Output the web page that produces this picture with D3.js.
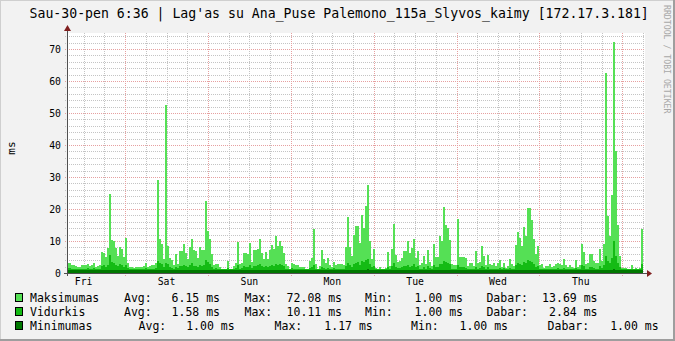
<!DOCTYPE html>
<meta charset="utf-8">
<script src="https://cdn.jsdelivr.net/npm/d3@7"></script>
<style>
    body { margin: 0; background: #f2f2f2; }
    svg text { font-family: "DejaVu Sans Mono", monospace; fill: #000; }
</style>
<div id="chart"></div>
<script>
    // rrd step data, one value per consolidated row (ms)
    var startTime = new Date(2015, 0, 23, 7, 10);
    var stepSeconds = 2086;

    var maxValues = [
        3, 3, 2.4, 2.4, 2.2, 2, 2, 2.6, 2.4, 2.4,
        2.8, 2.2, 2.6, 3.2, 2, 2.2, 2.4, 6.6, 6.4, 5,
        7.8, 24.8, 10.4, 10, 7.8, 5.2, 8, 7.6, 5, 11,
        3, 2, 2, 1.7, 2, 1.8, 2, 1.8, 2.2, 3,
        2, 2.2, 2.4, 2.6, 3.2, 29, 10.5, 9, 4.4, 52.5,
        8.5, 4.8, 4, 2.4, 6, 2.8, 7, 7, 9, 6.4,
        4.3, 8, 10.5, 7.2, 6.9, 4.8, 8, 7.2, 7.2, 22.5,
        13, 10.5, 5.8, 2.4, 2.7, 2.7, 2, 1.4, 1.2, 1.2,
        3.8, 1.2, 1.2, 2.2, 3.2, 9.7, 2.7, 3.2, 6.4, 6.1,
        5.8, 9.3, 3.4, 7.2, 7.2, 7.6, 10.5, 6.4, 4.3, 6.6,
        4.3, 7.2, 8.6, 7.4, 11.6, 8.4, 9.9, 8.4, 6.1, 2.7,
        2.2, 1.4, 3, 2.7, 2.4, 2.4, 2, 2, 2, 1.4,
        1.4, 3.8, 4.8, 13.6, 2.7, 1.4, 2.2, 7.2, 4.3, 3,
        4.8, 2.4, 2, 3.4, 2.4, 2.7, 2.7, 2.7, 2.4, 8.1,
        17.6, 8.2, 5.3, 12, 14.7, 14.7, 9.5, 18.1, 14.2, 20.9,
        27.4, 10, 4.3, 7.4, 1.7, 1.4, 2, 1.4, 1.4, 1.7,
        6.6, 2.2, 7.4, 15.2, 5.5, 3.4, 3.8, 4.8, 6.9, 6.9,
        10, 6.4, 7.9, 10.7, 4.8, 6.9, 2.4, 3, 5.3, 2.7,
        7.2, 3.4, 2.2, 9, 5.1, 5.1, 11.6, 10, 20.6, 14.9,
        14.2, 10.3, 2.7, 2.4, 2.4, 17, 5.1, 5.1, 5.1, 4.8,
        2.2, 3, 3, 2.2, 6.9, 3, 3.4, 8.4, 5.3, 2.4,
        5.6, 2.7, 2.4, 3, 2.2, 3, 4.1, 2, 3.2, 1.7,
        2.2, 4.3, 2.7, 2.2, 8.6, 12.8, 11, 8.4, 14.5, 11.6,
        20.4, 20.4, 16.6, 10.5, 5.8, 8.4, 2.4, 2.7, 1.7, 2.2,
        2.2, 2.7, 2, 2.2, 2.7, 3.2, 2.7, 2.4, 4.3, 2.4,
        2, 2.4, 2, 1.7, 4.1, 2, 2.4, 9, 6.6, 2.7,
        3, 5.8, 5.8, 3.8, 3, 3, 7.6, 3.8, 9, 62.5,
        17.8, 11.5, 24.4, 72.08, 38, 15, 5.3, 1.7, 1.7, 1.7,
        1.4, 1.4, 2.4, 1.4, 1.7, 1.4, 1.7, 13.69
    ];

    var avgValues = [
        1.5, 1.5, 1.4, 1.4, 1.3, 1.3, 1.3, 1.4, 1.4, 1.3,
        1.5, 1.3, 1.4, 1.5, 1.3, 1.3, 1.4, 2.2, 2.4, 2,
        2.6, 5.6, 3.4, 3.2, 2.6, 2.1, 2.8, 2.6, 2, 2.4,
        1.5, 1.3, 1.2, 1.2, 1.3, 1.2, 1.3, 1.2, 1.3, 1.5,
        1.3, 1.3, 1.4, 1.4, 1.6, 3.8, 3.2, 2.8, 1.9, 3.1,
        2.9, 1.9, 1.7, 1.4, 2, 1.5, 2.2, 2.3, 2.6, 2.1,
        1.8, 2.5, 3, 2.3, 2.2, 1.9, 2.5, 2.3, 2.4, 4.2,
        3.4, 2.9, 2, 1.4, 1.5, 1.4, 1.3, 1.2, 1.1, 1.1,
        1.6, 1.1, 1.1, 1.3, 1.5, 2.4, 1.4, 1.5, 2.1, 2,
        2, 2.5, 1.6, 2.2, 2.3, 2.4, 2.8, 2.1, 1.8, 2.2,
        1.8, 2.3, 2.5, 2.3, 2.9, 2.6, 2.7, 2.5, 2.1, 1.4,
        1.3, 1.1, 1.5, 1.4, 1.3, 1.3, 1.2, 1.2, 1.2, 1.1,
        1.1, 1.6, 1.8, 2.6, 1.4, 1.1, 1.3, 2, 1.7, 1.4,
        1.7, 1.3, 1.2, 1.5, 1.3, 1.4, 1.4, 1.4, 1.3, 2.3,
        3, 2.4, 2, 2.9, 3.2, 3.4, 2.6, 3.6, 3.3, 4,
        4.4, 2.8, 1.8, 2.3, 1.2, 1.1, 1.2, 1.1, 1.1, 1.2,
        2, 1.3, 2.2, 3.1, 1.9, 1.5, 1.6, 1.8, 2.1, 2.2,
        2.6, 2, 2.3, 2.7, 1.8, 2.1, 1.3, 1.4, 1.9, 1.4,
        2.1, 1.5, 1.3, 2.4, 1.9, 1.9, 2.9, 2.8, 3.9, 3.4,
        3.2, 2.7, 1.4, 1.3, 1.3, 2.6, 1.9, 1.8, 1.8, 1.7,
        1.3, 1.4, 1.4, 1.3, 2, 1.4, 1.5, 2.2, 1.8, 1.3,
        1.8, 1.4, 1.3, 1.4, 1.3, 1.4, 1.6, 1.2, 1.5, 1.2,
        1.3, 1.6, 1.4, 1.3, 2.4, 3, 2.8, 2.4, 3.3, 3,
        4.1, 3.9, 3.4, 2.7, 1.9, 2.3, 1.3, 1.4, 1.2, 1.3,
        1.3, 1.4, 1.2, 1.3, 1.4, 1.5, 1.4, 1.3, 1.7, 1.3,
        1.2, 1.3, 1.2, 1.2, 1.6, 1.2, 1.3, 2.4, 2.1, 1.4,
        1.4, 2, 2, 1.6, 1.4, 1.4, 2.3, 1.6, 2.5, 5.4,
        3.8, 3, 4.6, 10.11, 5.3, 3.2, 1.8, 1.2, 1.2, 1.2,
        1.1, 1.1, 1.3, 1.1, 1.2, 1.1, 1.2, 2.84
    ];

    var minValues = [
        1, 1, 1, 1, 1, 1, 1, 1, 1, 1,
        1, 1, 1, 1, 1, 1, 1, 1, 1, 1,
        1, 1.05, 1, 1, 1, 1, 1, 1, 1, 1,
        1, 1, 1, 1, 1, 1, 1, 1, 1, 1,
        1, 1, 1, 1, 1, 1.04, 1, 1, 1, 1.02,
        1, 1, 1, 1, 1, 1, 1, 1, 1, 1,
        1, 1, 1, 1, 1, 1, 1, 1, 1, 1.03,
        1, 1, 1, 1, 1, 1, 1, 1, 1, 1,
        1, 1, 1, 1, 1, 1, 1, 1, 1, 1,
        1, 1, 1, 1, 1, 1, 1, 1, 1, 1,
        1, 1, 1, 1, 1, 1, 1, 1, 1, 1,
        1, 1, 1, 1, 1, 1, 1, 1, 1, 1,
        1, 1, 1, 1, 1, 1, 1, 1, 1, 1,
        1, 1, 1, 1, 1, 1, 1, 1, 1, 1,
        1, 1, 1, 1, 1.02, 1, 1, 1.04, 1, 1.05,
        1.17, 1, 1, 1, 1, 1, 1, 1, 1, 1,
        1, 1, 1, 1, 1, 1, 1, 1, 1, 1,
        1, 1, 1, 1, 1, 1, 1, 1, 1, 1,
        1, 1, 1, 1, 1, 1, 1, 1, 1.04, 1,
        1, 1, 1, 1, 1, 1, 1, 1, 1, 1,
        1, 1, 1, 1, 1, 1, 1, 1, 1, 1,
        1, 1, 1, 1, 1, 1, 1, 1, 1, 1,
        1, 1, 1, 1, 1, 1, 1, 1, 1, 1,
        1.03, 1, 1, 1, 1, 1, 1, 1, 1, 1,
        1, 1, 1, 1, 1, 1, 1, 1, 1, 1,
        1, 1, 1, 1, 1, 1, 1, 1, 1, 1,
        1, 1, 1, 1, 1, 1, 1, 1, 1, 1.06,
        1, 1, 1.03, 1.1, 1.04, 1, 1, 1, 1, 1,
        1, 1, 1, 1, 1, 1, 1, 1
    ];

    var dayLabels = ["Fri", "Sat", "Sun", "Mon", "Tue", "Wed", "Thu"];
    var yTicks = [0, 10, 20, 30, 40, 50, 60, 70];

    var seriesNames = ["Maksimumas", "Vidurkis", "Minimumas"];
    var seriesColors = ["#55e055", "#14bb14", "#007800"];
    var statAvg = [6.15, 1.58, 1.00];
    var statMax = [72.08, 10.11, 1.17];
    var statMin = [1.00, 1.00, 1.00];
    var statNow = [13.69, 2.84, 1.00];

    var titleText = "Sau-30-pen 6:36 | Lag'as su Ana_Puse Palemono_115a_Slyvos_kaimy [172.17.3.181]";

    var width = 675;
    var height = 341;
    var plot = { left: 67, right: 647, top: 33, bottom: 273 };

    var endTime = d3.timeDay.offset(startTime, 7);

    var x = d3.scaleTime()
        .domain([startTime, endTime])
        .range([plot.left, plot.right]);

    var y = d3.scaleLinear()
        .domain([0, 75])
        .range([plot.bottom, plot.top]);

    var svg = d3.select('#chart')
        .append('svg')
        .attr('width', width)
        .attr('height', height);

    // frame
    svg.append('rect').attr('width', width).attr('height', height).attr('fill', '#f2f2f2');
    svg.append('path').attr('d', `M0,${height} V0 H${width}`).attr('fill', 'none')
        .attr('stroke', '#cfcfcf').attr('stroke-width', 2);
    svg.append('path').attr('d', `M0,${height - 1} H${width - 1} V0`).attr('fill', 'none')
        .attr('stroke', '#9e9e9e').attr('stroke-width', 2);

    svg.append('rect')
        .attr('x', plot.left).attr('y', plot.top)
        .attr('width', 578).attr('height', plot.bottom - plot.top)
        .attr('fill', '#ffffff');

    // grid
    var grid = svg.append('g').attr('shape-rendering', 'crispEdges');
    var minorH = d3.range(0, 76, 2).filter(v => v % 10 !== 0);
    var majorH = yTicks;

    grid.selectAll('line.mh')
        .data(minorH)
        .enter().append('line')
        .attr('x1', plot.left - 2).attr('x2', plot.left + 578)
        .attr('y1', d => Math.round(y(d)) + 0.5).attr('y2', d => Math.round(y(d)) + 0.5)
        .attr('stroke', '#c4c4c4').attr('stroke-dasharray', '1,1');

    var sixHours = d3.timeHour.every(6).range(startTime, endTime).filter(d => d.getHours() !== 0);
    var midnights = d3.timeDay.range(startTime, endTime);

    grid.selectAll('line.mv')
        .data(sixHours)
        .enter().append('line')
        .attr('x1', d => Math.round(x(d)) + 0.5).attr('x2', d => Math.round(x(d)) + 0.5)
        .attr('y1', plot.top).attr('y2', plot.bottom + 2)
        .attr('stroke', '#c4c4c4').attr('stroke-dasharray', '1,1');

    grid.selectAll('line.Mh')
        .data(majorH)
        .enter().append('line')
        .attr('x1', plot.left - 2).attr('x2', plot.left + 578)
        .attr('y1', d => Math.round(y(d)) + 0.5).attr('y2', d => Math.round(y(d)) + 0.5)
        .attr('stroke', '#e6a0a0').attr('stroke-dasharray', '1,1');

    grid.selectAll('line.Mv')
        .data(midnights)
        .enter().append('line')
        .attr('x1', d => Math.round(x(d)) + 0.5).attr('x2', d => Math.round(x(d)) + 0.5)
        .attr('y1', plot.top).attr('y2', plot.bottom + 3)
        .attr('stroke', '#e6a0a0').attr('stroke-dasharray', '1,1');

    // areas
    function toPoints(values) {
        var pts = values.map((v, i) => ({ t: new Date(+startTime + i * stepSeconds * 1000), v: v }));
        var last = pts[pts.length - 1];
        pts.push({ t: new Date(+last.t + stepSeconds * 1000), v: last.v });
        return pts;
    }

    var area = d3.area()
        .x(d => x(d.t))
        .y0(y(0))
        .y1(d => y(d.v))
        .curve(d3.curveStepAfter);

    [maxValues, avgValues, minValues].forEach((values, k) => {
        svg.append('path')
            .datum(toPoints(values))
            .attr('d', area)
            .attr('fill', seriesColors[k])
            .attr('shape-rendering', 'crispEdges');
    });

    // axes
    var axisColor = '#505050';
    svg.append('line')
        .attr('x1', plot.left - 3).attr('x2', plot.right + 1)
        .attr('y1', plot.bottom + 0.5).attr('y2', plot.bottom + 0.5)
        .attr('stroke', axisColor);
    svg.append('line')
        .attr('x1', plot.left + 0.5).attr('x2', plot.left + 0.5)
        .attr('y1', plot.bottom + 3).attr('y2', plot.top - 3)
        .attr('stroke', axisColor);
    svg.append('path')
        .attr('d', `M${plot.right},${plot.bottom - 3} L${plot.right + 5},${plot.bottom + 0.5} L${plot.right},${plot.bottom + 4} Z`)
        .attr('fill', '#801f1f');
    svg.append('path')
        .attr('d', `M${plot.left - 3},${plot.top - 2} L${plot.left + 0.5},${plot.top - 8} L${plot.left + 4},${plot.top - 2} Z`)
        .attr('fill', '#801f1f');

    // axis labels
    svg.append('g')
        .selectAll('text')
        .data(yTicks)
        .enter().append('text')
        .attr('x', 61)
        .attr('y', d => y(d))
        .attr('dy', '0.36em')
        .attr('text-anchor', 'end')
        .style('font-size', '9.8px')
        .text(d => d);

    svg.append('g')
        .selectAll('text')
        .data(dayLabels)
        .enter().append('text')
        .attr('x', (d, i) => x(d3.timeHour.offset(d3.timeDay.floor(startTime), 24 * i + 12)))
        .attr('y', 285)
        .attr('text-anchor', 'middle')
        .style('font-size', '9.8px')
        .text(d => d);

    svg.append('text')
        .attr('transform', 'translate(15,148) rotate(-90)')
        .attr('text-anchor', 'middle')
        .style('font-size', '11px')
        .text('ms');

    svg.append('text')
        .attr('transform', 'translate(664,5) rotate(90)')
        .style('font-size', '8.2px')
        .style('fill', '#a8a8a8')
        .text('RRDTOOL / TOBI OETIKER');

    svg.append('text')
        .attr('x', 29.5)
        .attr('y', 18)
        .style('font-size', '13.2px')
        .style('white-space', 'pre')
        .text(titleText);

    // legend: label columns (start x) and value columns (end x) per row
    var rowY = [298, 312, 326];
    var labelX = [
        [124, 244.5, 365, 486.4],
        [124, 244.5, 365, 486.4],
        [138.6, 274.6, 411.1, 547.6]
    ];
    var valueEndX = [
        [220, 342, 463, 597.5],
        [220, 342, 463, 597.5],
        [234.6, 372.8, 508, 658.6]
    ];
    var statLabels = ['Avg:', 'Max:', 'Min:', 'Dabar:'];
    var legend = svg.append('g').style('font-size', '11.5px');

    seriesNames.forEach((name, k) => {
        var cy = rowY[k];
        legend.append('rect')
            .attr('x', 15.5).attr('y', cy - 4.5)
            .attr('width', 7).attr('height', 8)
            .attr('fill', seriesColors[k])
            .attr('stroke', '#000');
        legend.append('text').attr('x', 30).attr('y', cy + 4).text(name);
        var stats = [statAvg[k], statMax[k], statMin[k], statNow[k]];
        statLabels.forEach((lab, j) => {
            legend.append('text').attr('x', labelX[k][j]).attr('y', cy + 4).text(lab);
            legend.append('text')
                .attr('x', valueEndX[k][j]).attr('y', cy + 4)
                .attr('text-anchor', 'end')
                .text(stats[j].toFixed(2) + ' ms');
        });
    });
</script>
